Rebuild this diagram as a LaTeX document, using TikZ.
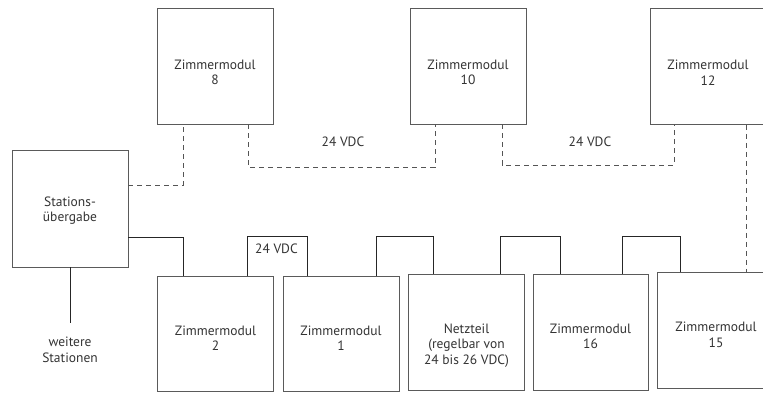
\documentclass[tikz,border=0pt]{standalone}
\usepackage{fontspec}
\setmainfont{PT Sans}
\usetikzlibrary{positioning, calc}

\definecolor{boxgray}{HTML}{5A5A5A}
\definecolor{dashgray}{HTML}{555555}
\definecolor{txtgray}{HTML}{333333}

\tikzset{
  modul/.style={draw=boxgray, line width=0.9pt, minimum width=116pt, minimum height=116pt, inner sep=0pt},
  txt/.style={align=center, inner sep=0pt, text=txtgray, font=\fontsize{13.5}{15.5}\selectfont},
  wire/.style={black!85, line width=0.8pt},
  dashwire/.style={dashgray, line width=0.8pt, dash pattern=on 5pt off 4pt}
}

\begin{document}
\begin{tikzpicture}[x=1pt, y=1pt]
        \useasboundingbox (0,0) rectangle (763,392);
        \clip (0,0) rectangle (763,392);

        % Station
        \node[modul, minimum height=117pt] (stat) at (70,183.5) {};
        \node[txt, below=47pt of stat.north] (statt) {Stations-\\übergabe};
        \node[txt] (wst) at (70,42) {weitere\\Stationen};

        % upper modules (the last one runs off the page)
        \node[modul] (zm8) at (215,326) {};
        \node[modul] (zm10) at (468,326) {};
        \node[modul, minimum width=160pt, anchor=north west] (zm12) at (650,384) {};
        \node[txt, below=52pt of zm8.north] (zm8t) {Zimmermodul\\8};
        \node[txt, below=52pt of zm10.north] (zm10t) {Zimmermodul\\10};
        \node[txt, anchor=north] (zm12t) at ($(zm12.north west)+(58,-52)$) {Zimmermodul\\12};

        % lower modules
        \node[modul, minimum height=115pt] (zm2) at (215.5,58.5) {};
        \node[modul, minimum height=115pt] (zm1) at (341,58.5) {};
        \node[modul] (netz) at (466.5,60) {};
        \node[modul, minimum width=115pt] (zm16) at (590.5,60) {};
        \node[modul, minimum width=160pt, anchor=north west] (zm15) at (657,120) {};
        \node[txt, below=50pt of zm2.north] (zm2t) {Zimmermodul\\2};
        \node[txt, below=50pt of zm1.north] (zm1t) {Zimmermodul\\1};
        \node[txt, below=50pt of netz.north] (netzt) {Netzteil\\(regelbar von\\24 bis 26 VDC)};
        \node[txt, below=50pt of zm16.north] (zm16t) {Zimmermodul\\16};
        \node[txt, anchor=north] (zm15t) at ($(zm15.north west)+(59,-50)$) {Zimmermodul\\15};

        % voltage labels
        \node[txt] (v1) at (343,250.5) {24 VDC};
        \node[txt] (v2) at (590,250.5) {24 VDC};
        \node[txt] (v3) at (276.5,143) {24 VDC};

        % dashed bus (upper row)
        \draw[dashwire] (stat.east |- 0,207) -| (183,0 |- zm8.south);
        \draw[dashwire] (248,0 |- zm8.south) |- (435,225) -- (435,0 |- zm10.south);
        \draw[dashwire] (502,0 |- zm10.south) |- (674,227) -- (674,0 |- zm12.south);
        \draw[dashwire] (746,0 |- zm12.south) -- (746,0 |- zm15.north);

        % solid bus (lower row)
        \draw[wire] (stat.east |- 0,155) -| (183,0 |- zm2.north);
        \foreach \a/\na/\b/\nb in {247/zm2/307/zm1, 376/zm1/433/netz, 500/netz/560/zm16, 622/zm16/680/zm15}
          \draw[wire] (\a,0 |- \na.north) |- (\b,156) -- (\b,0 |- \nb.north);

        % further stations
        \draw[wire] (stat.south) -- (70,69);
    \end{tikzpicture}
\end{document}
